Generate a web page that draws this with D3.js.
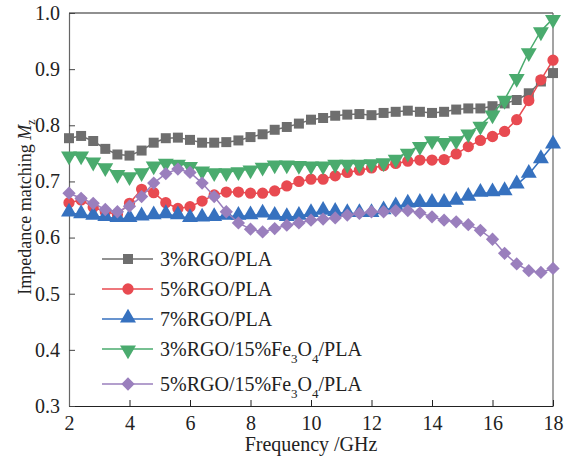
<!DOCTYPE html>
<html>
<head>
<meta charset="utf-8">
<script src="https://cdn.jsdelivr.net/npm/d3@7"></script>
<style>
  body { margin: 0; background: #fff; }
  text { font-family: "Liberation Serif", "Times New Roman", serif; fill: #222; }
</style>
</head>
<body>
<div id="chart"></div>
<script>
// frecuencias (GHz)
var freq = [2.0, 2.4, 2.8, 3.2, 3.6, 4.0, 4.4, 4.8, 5.2, 5.6, 6.0, 6.4, 6.8, 7.2, 7.6, 8.0,
  8.4, 8.8, 9.2, 9.6, 10.0, 10.4, 10.8, 11.2, 11.6, 12.0, 12.4, 12.8, 13.2, 13.6, 14.0,
  14.4, 14.8, 15.2, 15.6, 16.0, 16.4, 16.8, 17.2, 17.6, 18.0];

var rgo3 = [0.777, 0.781, 0.772, 0.758, 0.748, 0.746, 0.755, 0.769, 0.777, 0.778, 0.774,
  0.769, 0.769, 0.770, 0.773, 0.779, 0.784, 0.792, 0.797, 0.803, 0.810, 0.813, 0.817,
  0.819, 0.820, 0.818, 0.822, 0.824, 0.826, 0.824, 0.822, 0.824, 0.828, 0.830, 0.830,
  0.834, 0.839, 0.845, 0.857, 0.878, 0.893];

var rgo5 = [0.662, 0.667, 0.654, 0.646, 0.641, 0.661, 0.686, 0.680, 0.662, 0.652, 0.655,
  0.665, 0.676, 0.681, 0.681, 0.679, 0.679, 0.683, 0.692, 0.700, 0.704, 0.704, 0.710,
  0.716, 0.720, 0.724, 0.728, 0.732, 0.736, 0.738, 0.738, 0.739, 0.749, 0.762, 0.773,
  0.780, 0.789, 0.810, 0.844, 0.881, 0.916];

var rgo7 = [0.644, 0.641, 0.638, 0.636, 0.634, 0.634, 0.637, 0.639, 0.641, 0.639, 0.634,
  0.635, 0.636, 0.638, 0.638, 0.639, 0.642, 0.638, 0.636, 0.638, 0.643, 0.647, 0.645,
  0.643, 0.643, 0.643, 0.648, 0.655, 0.660, 0.661, 0.661, 0.661, 0.665, 0.672, 0.679,
  0.680, 0.682, 0.694, 0.713, 0.739, 0.765];

var rgo3fe = [0.747, 0.747, 0.736, 0.726, 0.714, 0.710, 0.717, 0.729, 0.734, 0.732, 0.728,
  0.720, 0.717, 0.717, 0.719, 0.722, 0.727, 0.731, 0.731, 0.730, 0.729, 0.729, 0.732,
  0.732, 0.732, 0.733, 0.735, 0.741, 0.752, 0.764, 0.774, 0.771, 0.774, 0.786, 0.800,
  0.820, 0.846, 0.885, 0.931, 0.968, 0.990];

var rgo5fe = [0.679, 0.670, 0.661, 0.650, 0.646, 0.656, 0.673, 0.697, 0.714, 0.722, 0.716,
  0.697, 0.673, 0.646, 0.626, 0.615, 0.610, 0.616, 0.622, 0.626, 0.631, 0.633, 0.635,
  0.640, 0.643, 0.646, 0.646, 0.648, 0.648, 0.644, 0.637, 0.631, 0.628, 0.623, 0.613,
  0.597, 0.572, 0.553, 0.541, 0.538, 0.545];

var xTicks = [2, 4, 6, 8, 10, 12, 14, 16, 18];
var yTicks = [0.3, 0.4, 0.5, 0.6, 0.7, 0.8, 0.9, 1.0];

// series: nombre, valores, color, marcador
var series = [
  { parts: [["3%RGO/PLA"]], values: rgo3, color: "#6e6e6e", symbol: "square" },
  { parts: [["5%RGO/PLA"]], values: rgo5, color: "#e84a51", symbol: "circle" },
  { parts: [["7%RGO/PLA"]], values: rgo7, color: "#3671bf", symbol: "up" },
  { parts: [["3%RGO/15%Fe"], ["3", "sub"], ["O"], ["4", "sub"], ["/PLA"]], values: rgo3fe, color: "#4aab6e", symbol: "down" },
  { parts: [["5%RGO/15%Fe"], ["3", "sub"], ["O"], ["4", "sub"], ["/PLA"]], values: rgo5fe, color: "#9a7fbd", symbol: "diamond" }
];

var width = 565, height = 458;
var margin = { top: 13, right: 12, bottom: 52, left: 69 };
var innerW = width - margin.left - margin.right;
var innerH = height - margin.top - margin.bottom;

var svg = d3.select("#chart").append("svg")
  .attr("width", width)
  .attr("height", height);

var g = svg.append("g")
  .attr("transform", "translate(" + margin.left + "," + margin.top + ")");

var x = d3.scaleLinear().domain([2, 18]).range([0, innerW]);
var y = d3.scaleLinear().domain([0.3, 1.0]).range([innerH, 0]);

// marco
g.append("line").attr("x1", 0).attr("x2", innerW).attr("y1", 0).attr("y2", 0)
  .attr("stroke", "#222").attr("stroke-width", 1.2);
g.append("line").attr("x1", innerW).attr("x2", innerW).attr("y1", 0).attr("y2", innerH)
  .attr("stroke", "#666").attr("stroke-width", 1.2);

// ejes con ticks hacia dentro
var xAxis = g.append("g")
  .attr("transform", "translate(0," + innerH + ")")
  .call(d3.axisBottom(x).tickValues(xTicks).tickSizeInner(-6).tickSizeOuter(0).tickPadding(10)
    .tickFormat(d3.format("d")));
xAxis.select(".domain").attr("stroke", "#222").attr("stroke-width", 1.2);
xAxis.selectAll(".tick line").attr("stroke", "#222");
xAxis.selectAll("text").attr("font-size", 20).style("font-family", "Liberation Serif").attr("fill", "#222");

var yAxis = g.append("g")
  .call(d3.axisLeft(y).tickValues(yTicks).tickSizeInner(-6).tickSizeOuter(0).tickPadding(9)
    .tickFormat(d3.format(".1f")));
yAxis.select(".domain").attr("stroke", "#666").attr("stroke-width", 1.2);
yAxis.selectAll(".tick line").attr("stroke", "#444");
yAxis.selectAll("text").attr("font-size", 20).style("font-family", "Liberation Serif").attr("fill", "#222");

// símbolos
function symbolPath(type) {
  if (type === "square") return d3.symbol().type(d3.symbolSquare).size(100)();
  if (type === "circle") return d3.symbol().type(d3.symbolCircle).size(100)();
  if (type === "up" || type === "down") return d3.symbol().type(d3.symbolTriangle).size(110)();
  return d3.symbol().type(d3.symbolSquare).size(88)();
}
function symbolRotate(type) {
  if (type === "down") return " rotate(180)";
  if (type === "diamond") return " rotate(45)";
  return "";
}

var line = d3.line()
  .x(function(d) { return x(d[0]); })
  .y(function(d) { return y(d[1]); });

series.forEach(function(s) {
  var pts = freq.map(function(f, i) { return [f, s.values[i]]; });
  var sg = g.append("g");
  sg.append("path")
    .datum(pts)
    .attr("d", line)
    .attr("fill", "none")
    .attr("stroke", s.color)
    .attr("stroke-width", 1.5);
  sg.selectAll("path.m")
    .data(pts)
    .enter()
    .append("path")
    .attr("class", "m")
    .attr("d", symbolPath(s.symbol))
    .attr("transform", function(d) {
      var dy = s.symbol === "up" ? -1 : (s.symbol === "down" ? 1 : 0);
      return "translate(" + x(d[0]) + "," + (y(d[1]) + dy) + ")" + symbolRotate(s.symbol);
    })
    .attr("fill", s.color);
});

// leyenda
var legendRows = [259, 289, 319, 349, 384];
series.forEach(function(s, i) {
  var ly = legendRows[i];
  var lg = svg.append("g");
  lg.append("line").attr("x1", 102).attr("x2", 153).attr("y1", ly).attr("y2", ly)
    .attr("stroke", s.color).attr("stroke-width", 1.5);
  var dy = s.symbol === "up" ? -1 : (s.symbol === "down" ? 1 : 0);
  lg.append("path").attr("d", symbolPath(s.symbol))
    .attr("transform", "translate(128," + (ly + dy) + ")" + symbolRotate(s.symbol))
    .attr("fill", s.color);
  var t = lg.append("text").attr("x", 160).attr("y", ly + 7).attr("font-size", 20);
  var sub = false;
  s.parts.forEach(function(p) {
    var ts = t.append("tspan").text(p[0]);
    if (p[1] === "sub") {
      ts.attr("font-size", 13).attr("dy", 7);
      sub = true;
    } else if (sub) {
      ts.attr("dy", -7);
      sub = false;
    }
  });
});

// títulos de ejes
svg.append("text")
  .attr("x", margin.left + innerW / 2)
  .attr("y", 451)
  .attr("text-anchor", "middle")
  .attr("font-size", 20)
  .text("Frequency /GHz");

var yl = svg.append("text")
  .attr("transform", "translate(31,207) rotate(-90)")
  .attr("text-anchor", "middle")
  .attr("font-size", 18);
yl.append("tspan").text("Impedance matching ");
yl.append("tspan").attr("font-style", "italic").text("M");
yl.append("tspan").attr("font-size", 12).attr("dy", 4).text("z");
</script>
</body>
</html>
